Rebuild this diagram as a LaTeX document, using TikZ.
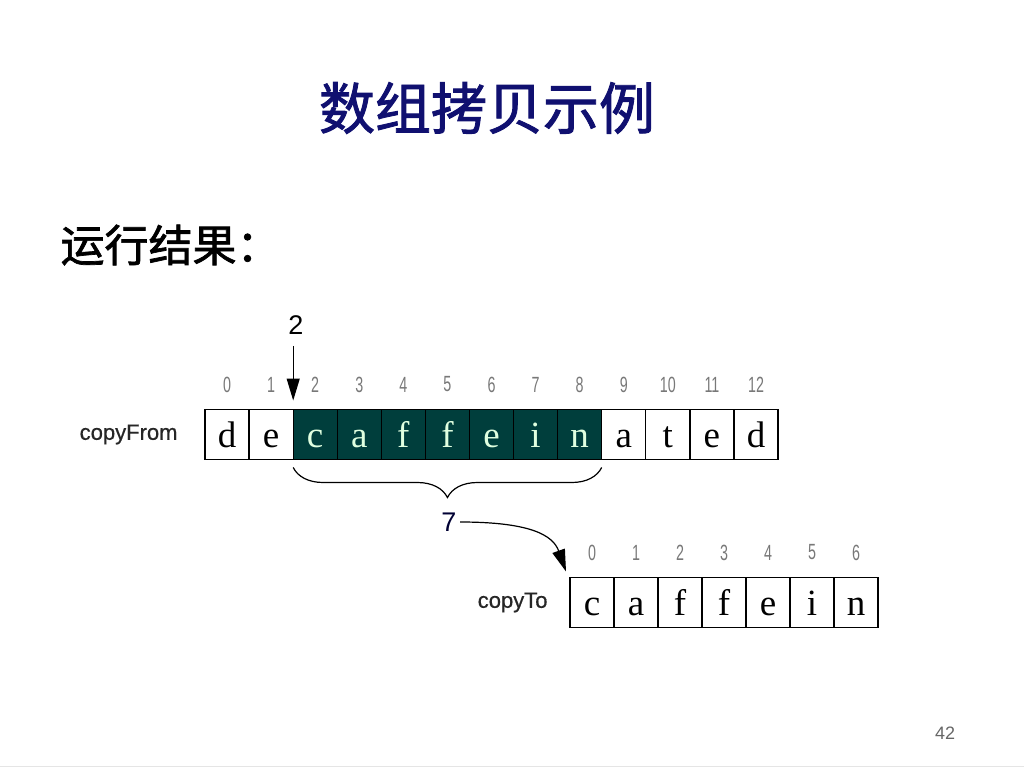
\documentclass[tikz,border=0pt]{standalone}
\usepackage{fontspec}
\setmainfont{Liberation Serif}
\setsansfont{Liberation Sans}
\newfontfamily\cjkfont[FakeBold=1.6]{Noto Sans CJK SC}
\newfontfamily\idxfont[FakeStretch=0.65]{Liberation Sans}
\newfontfamily\namefont[FakeBold=0.6]{Liberation Sans}
\usetikzlibrary{arrows.meta,decorations.pathreplacing,positioning}
\definecolor{slidenavy}{RGB}{16,16,112}
\definecolor{cellteal}{RGB}{0,62,60}
\definecolor{idxgray}{RGB}{120,120,120}
\tikzset{
	cell/.style = {draw, line width=1.2pt, minimum width=44pt, minimum height=50pt, inner sep=0pt, outer sep=0pt, text height=28pt, text depth=2pt, font=\fontsize{37}{37}\selectfont},
	plain/.style = {cell, fill=white},
	hot/.style = {cell, fill=cellteal, text=white!88!green},
	idx/.style = {text=idxgray, font=\idxfont\fontsize{22}{22}\selectfont},
	arrname/.style = {font=\namefont\fontsize{22}{22}\selectfont, text=black!85},
	bignum/.style = {font=\sffamily\fontsize{27}{27}\selectfont},
	tip/.style = {-{Triangle[length=22pt,width=13pt]}, line width=1.2pt}
}
\begin{document}
\begin{tikzpicture}[x=1pt, y=-1pt]
	\useasboundingbox (0,0) rectangle (1024,768);
	\node[font=\cjkfont\fontsize{56}{56}\selectfont, text=slidenavy] (title) at (487,108) {数组拷贝示例};
	\node[font=\cjkfont\fontsize{44}{44}\selectfont, anchor=west] (result) at (57,245) {运行结果：};
	% source array
	\foreach \ch/\sty [count=\i from 0] in {d/plain,e/plain,c/hot,a/hot,f/hot,f/hot,e/hot,i/hot,n/hot,a/plain,t/plain,e/plain,d/plain} {
		\node[\sty] (f\i) at ({205+44.08*(\i+0.5)},434.5) {\ch};
		\node[idx] (fi\i) at ([yshift=25pt]f\i.north) {\i};
	}
	\node[arrname, left=24pt of f0] (fromname) {copyFrom};
	% target array
	\foreach \ch [count=\i from 0] in {c,a,f,f,e,i,n} {
		\node[plain] (t\i) at ({570+44*(\i+0.5)},602.5) {\ch};
		\node[idx] (ti\i) at ([yshift=25pt]t\i.north) {\i};
	}
	\node[arrname, left=19pt of t0] (toname) {copyTo};
	% start index
	\node[bignum] (two) at (296,325) {2};
	\draw[tip] ([yshift=-8pt]two.south -| f2.north west) -- ([yshift=9pt]f2.north west);
	% length
	\draw[decorate, decoration={brace, mirror, amplitude=30pt}, line width=1.2pt] ([yshift=-8pt]f2.south west) -- ([yshift=-8pt]f8.south east);
	\node[bignum, text=black!80!blue] (seven) at (449,522) {7};
	\coordinate (landing) at ([xshift=-4pt,yshift=6pt]t0.north west);
	\draw[tip] (seven.east) .. controls (530,522) and (553,535) .. (landing);
	\node[font=\sffamily\fontsize{18}{18}\selectfont, text=black!60] (page) at (945,733) {42};
	\draw[black!10] (0,766) -- (1024,766);
\end{tikzpicture}
\end{document}
